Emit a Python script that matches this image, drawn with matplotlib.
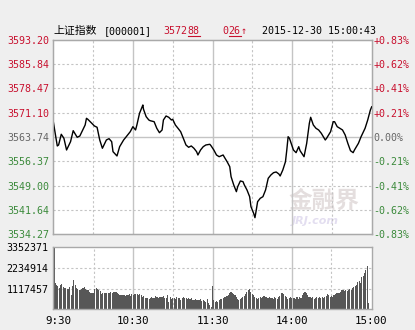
import matplotlib
matplotlib.use('Agg')
import matplotlib.pyplot as plt
import matplotlib.transforms as mtransforms
from matplotlib.lines import Line2D

# ---------------- data ----------------
price_minutes = [0, 3, 4, 6, 8, 10, 13, 15, 18, 20, 24, 25, 26, 29, 31, 33, 35, 37, 40, 42,
                 44, 45, 48, 50, 53, 55, 58, 60, 62, 63, 65, 67, 67.5, 68, 70, 72, 73, 76, 78, 80,
                 82, 83, 85, 87, 89, 90, 92, 94, 96, 98, 100, 102, 104, 106, 108, 109, 111, 113, 115, 118,
                 119, 121, 123, 125, 128, 129, 131, 133, 134, 136, 138, 139, 141, 143, 144, 146, 148, 149, 151, 152,
                 153, 154, 156, 158, 160, 162, 164, 166, 168, 170, 171, 173, 175, 176, 177, 178, 181, 183, 185, 186,
                 189, 191, 193, 194, 196, 198, 200, 202, 205, 206, 209, 211, 212, 214, 216, 218, 220, 222, 224, 226,
                 227, 230, 232, 235, 237, 239, 240]
price_values = [3568.37, 3561.02, 3561.32, 3564.56, 3563.35, 3559.80, 3562.32, 3565.65, 3563.65, 3564.04,
                3567.37, 3569.40, 3569.10, 3567.89, 3567.07, 3566.68, 3562.83, 3560.32, 3562.83, 3563.23,
                3562.32, 3559.29, 3557.99, 3560.80, 3562.83, 3563.83, 3565.34, 3566.86, 3565.86, 3567.37,
                3570.92, 3572.91, 3573.43, 3572.13, 3569.89, 3568.89, 3568.68, 3568.37, 3566.37, 3565.04,
                3565.86, 3568.89, 3570.10, 3569.71, 3568.89, 3569.10, 3567.37, 3566.37, 3565.34, 3563.35,
                3561.32, 3560.62, 3561.02, 3560.32, 3559.29, 3558.29, 3559.80, 3560.80, 3561.32, 3561.53,
                3561.02, 3559.80, 3558.29, 3557.77, 3558.29, 3557.59, 3556.26, 3554.75, 3551.72, 3549.21,
                3547.18, 3548.69, 3550.42, 3550.21, 3549.21, 3547.69, 3545.66, 3542.63, 3540.64, 3539.30,
                3541.64, 3544.15, 3545.18, 3545.66, 3547.69, 3551.23, 3552.23, 3552.93, 3553.14, 3552.54,
                3551.93, 3553.75, 3556.26, 3559.80, 3563.83, 3563.35, 3559.80, 3558.99, 3560.80, 3559.59,
                3557.77, 3561.83, 3567.89, 3569.71, 3567.37, 3566.37, 3565.86, 3564.86, 3562.83, 3563.35,
                3565.34, 3568.37, 3568.37, 3566.86, 3566.37, 3565.86, 3564.35, 3561.83, 3559.59, 3558.99,
                3559.80, 3561.83, 3563.83, 3566.37, 3568.89, 3571.92, 3572.88]

# volume per minute (thousands of lots), 9:30 .. 15:00
volume_k = [3300, 1440, 1320, 1260, 1150, 1300, 1350, 1230, 1170, 1140,
            1120, 1080, 1190, 800, 1250, 1590, 1320, 1140, 1080, 1050,
            1020, 1080, 1140, 1230, 1080, 1050, 1020, 960, 900, 880,
            900, 1120, 1140, 1100, 1050, 1000, 830, 860, 860, 880,
            880, 860, 860, 950, 900, 960, 940, 930, 860, 830,
            790, 780, 780, 770, 720, 770, 780, 830, 720, 830,
            780, 810, 830, 830, 780, 830, 800, 680, 720, 600,
            590, 590, 540, 590, 650, 600, 590, 720, 650, 590,
            680, 650, 650, 720, 600, 590, 780, 400, 650, 540,
            590, 600, 540, 650, 590, 600, 500, 600, 650, 590,
            600, 540, 590, 540, 590, 520, 500, 540, 500, 500,
            500, 540, 470, 500, 430, 400, 540, 320, 220, 150,
            1260,
            500, 410, 470, 410, 500, 540, 540, 590, 650,
            680, 720, 780, 900, 960, 870, 830, 780, 680, 580,
            500, 540, 590, 650, 720, 830, 960, 1050, 1080, 960,
            830, 780, 680, 590, 580, 590, 650, 590, 650, 720,
            650, 650, 590, 650, 590, 590, 540, 650, 590, 540,
            650, 720, 870, 900, 830, 720, 650, 540, 590, 650,
            590, 610, 590, 540, 650, 540, 680, 590, 780, 900,
            960, 870, 780, 680, 650, 590, 650, 540, 590, 650,
            590, 650, 590, 650, 590, 680, 720, 810, 780, 680,
            720, 650, 780, 830, 870, 900, 870, 960, 1050, 1050,
            1010, 1050, 1010, 1050, 1080, 1050, 1140, 1190, 1260, 1320,
            1500, 1550, 1440, 1730, 1800, 1950, 2130, 2340, 320]

prev_close = 3563.74
price_ticks = [3534.27, 3541.64, 3549.00, 3556.37, 3563.74, 3571.10, 3578.47, 3585.84, 3593.20]
price_labels = ['3534.27', '3541.64', '3549.00', '3556.37', '3563.74', '3571.10', '3578.47', '3585.84', '3593.20']
pct_labels = ['-0.83%', '-0.62%', '-0.41%', '-0.21%', '0.00%', '+0.21%', '+0.41%', '+0.62%', '+0.83%']
vol_ticks = [1117457, 2234914, 3352371]
vol_labels = ['1117457', '2234914', '3352371']
time_positions = [0, 60, 120, 180, 240]
time_labels = ['9:30', '10:30', '11:30', '14:00', '15:00']

title_name = '上证指数'
title_code = '[000001]'
last_int, last_dec = '3572', '88'
chg_int, chg_dec, chg_arrow = '0', '26', '↑'
stamp = '2015-12-30 15:00:43'

# ---------------- style ----------------
W, H = 415, 330
RED = '#c8102e'
GREEN = '#3b8a3b'
GRAY = '#666666'
GRID = '#c4c4c4'
SPINE = '#a9a9a9'
MONO = ['DejaVu Sans Mono', 'DejaVu Sans']
FS = 7.2

fig = plt.figure(figsize=(W / 100, H / 100), dpi=100)
fig.patch.set_facecolor('#efefef')


def box(x0, y0, x1, y1):
    return [x0 / W, 1 - y1 / H, (x1 - x0) / W, (y1 - y0) / H]


def style_axes(a):
    a.set_facecolor('white')
    for s in a.spines.values():
        s.set_color(SPINE)
        s.set_linewidth(1.0)
    a.tick_params(length=0)


# ---------- price panel ----------
ax = fig.add_axes(box(53.3, 39.7, 371.7, 234.3))
style_axes(ax)
ax.set_xlim(0, 240)
ax.set_ylim(price_ticks[0], price_ticks[-1])

for v in price_ticks[1:-1]:
    if abs(v - prev_close) < 1e-6:
        ax.axhline(v, color=GRID, lw=1.0, zorder=1)
    else:
        ax.axhline(v, color=GRID, lw=0.8, ls=(0, (2, 2)), zorder=1)
for m in [30, 60, 90, 120, 150, 180, 210]:
    if m % 60 == 0:
        ax.axvline(m, color=GRID, lw=1.0, zorder=1)
    else:
        ax.axvline(m, color=GRID, lw=0.8, ls=(0, (2, 2)), zorder=1)

# watermark
ax.text(288 / W, 1 - 201 / H, '金融界', transform=fig.transFigure, fontsize=17,
        family=['Noto Sans CJK SC'], fontweight='bold', color='#e4dede', va='center', ha='left', zorder=0.5)
ax.text(292 / W, 1 - 221 / H, 'JRJ.com', transform=fig.transFigure, fontsize=8,
        family=['DejaVu Sans'], fontweight='bold', fontstyle='italic', color='#e3def0', va='center', ha='left', zorder=0.5)

ax.plot(price_minutes, price_values, color='black', lw=1.0, zorder=3)

ax.set_xticks([])
ax.set_yticks(price_ticks)
ax.set_yticklabels(price_labels, family=MONO, fontsize=FS)
ax.tick_params(axis='y', pad=2.5)
for lab, v in zip(ax.get_yticklabels(), price_ticks):
    lab.set_color(RED if v > prev_close + 1e-6 else (GRAY if abs(v - prev_close) < 1e-6 else GREEN))

ax2 = ax.twinx()
ax2.set_ylim(ax.get_ylim())
ax2.set_yticks(price_ticks)
ax2.set_yticklabels(pct_labels, family=MONO, fontsize=FS)
ax2.tick_params(length=0, pad=1)
for s in ax2.spines.values():
    s.set_color(SPINE)
for lab, v in zip(ax2.get_yticklabels(), price_ticks):
    lab.set_color(RED if v > prev_close + 1e-6 else (GRAY if abs(v - prev_close) < 1e-6 else GREEN))

# ---------- volume panel ----------
vax = fig.add_axes(box(53.3, 247.3, 371.7, 309.3))
style_axes(vax)
vax.set_xlim(-0.5, 240.5)
vax.set_ylim(0, vol_ticks[-1])
for v in vol_ticks[:-1]:
    vax.axhline(v, color=GRID, lw=0.8, ls=(0, (2, 2)), zorder=1)
for m in [30, 60, 90, 120, 150, 180, 210]:
    if m % 60 == 0:
        vax.axvline(m, color=GRID, lw=1.0, zorder=1)
    else:
        vax.axvline(m, color=GRID, lw=0.8, ls=(0, (2, 2)), zorder=1)
vax.bar(range(len(volume_k)), [v * 1000 for v in volume_k], width=0.85,
        color='#575757', zorder=2, linewidth=0)
vax.set_yticks(vol_ticks)
vax.set_yticklabels(vol_labels, family=MONO, fontsize=FS, color='black')
vax.tick_params(axis='y', pad=3.5)
vax.set_xticks(time_positions)
vax.set_xticklabels(time_labels, family=MONO, fontsize=FS + 0.6, color='black')
vax.tick_params(axis='x', pad=4.5)
lbl0 = vax.get_xticklabels()[0]
lbl0.set_transform(lbl0.get_transform() + mtransforms.ScaledTranslation(4.5 / 100, 0, fig.dpi_scale_trans))

# ---------- header ----------
def ftext(x, y, s, color='black', **kw):
    return fig.text(x / W, 1 - y / H, s, color=color, va='center', ha='left', **kw)


ftext(53.3, 31, title_name, family=['Noto Sans CJK SC'], fontsize=7.8)
ftext(103.5, 31, title_code, family=MONO, fontsize=FS)
ftext(163.3, 31, last_int, RED, family=MONO, fontsize=FS)
ftext(187.5, 31, last_dec, RED, family=MONO, fontsize=FS)
fig.add_artist(Line2D([187.5 / W, 200 / W], [1 - 36 / H, 1 - 36 / H], color=RED, lw=0.8))
ftext(222.7, 31, chg_int, RED, family=MONO, fontsize=FS)
ftext(228.7, 31, chg_dec, RED, family=MONO, fontsize=FS)
fig.add_artist(Line2D([228.7 / W, 240.5 / W], [1 - 36 / H, 1 - 36 / H], color=RED, lw=0.8))
ftext(241, 31, chg_arrow, RED, family=MONO, fontsize=FS)
ftext(261.7, 31, stamp, family=MONO, fontsize=FS)

fig.savefig('out.png', dpi=100, facecolor=fig.get_facecolor())
